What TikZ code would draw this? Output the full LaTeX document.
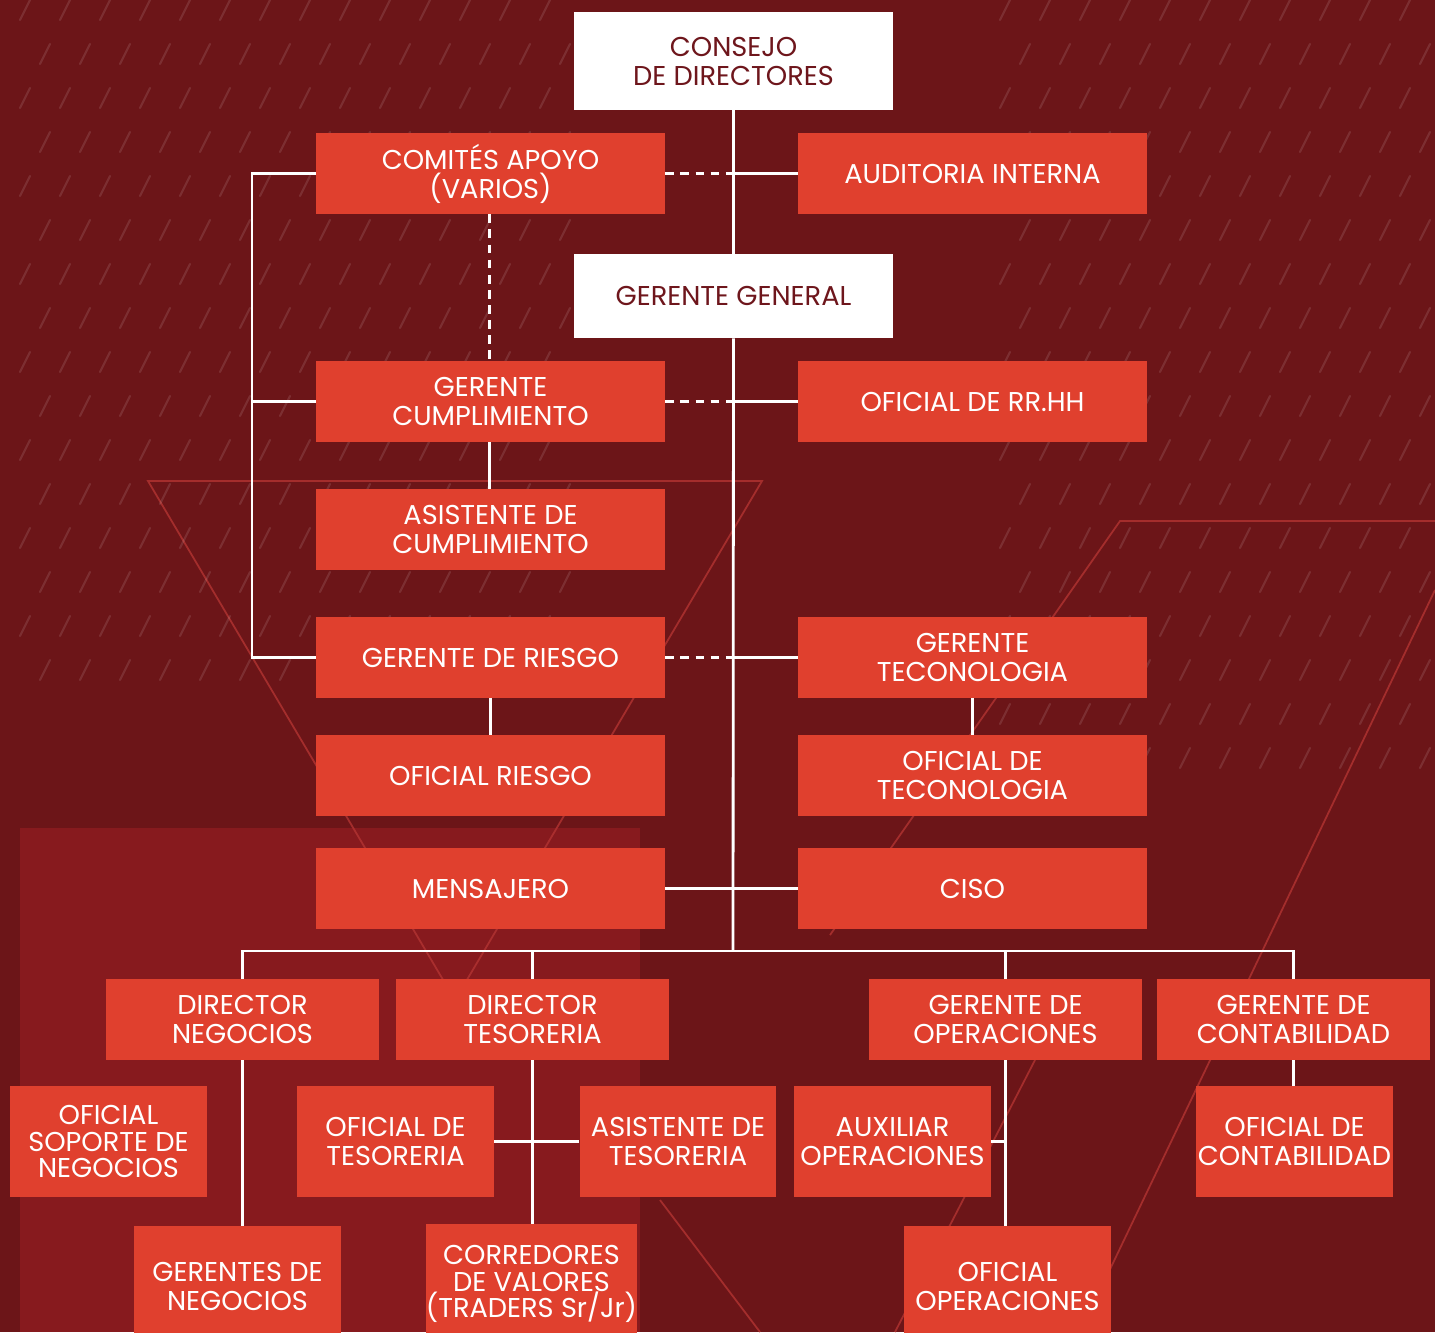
\documentclass[tikz,border=0pt]{standalone}
\usepackage{fontspec}
\setmainfont{Poppins}
\usepackage{xcolor}
\usepackage{tikz}
\definecolor{bgred}{RGB}{108,21,24}
\definecolor{lightbg}{RGB}{135,26,30}
\definecolor{boxred}{RGB}{224,64,46}
\definecolor{wine}{RGB}{110,22,28}
\definecolor{deco}{RGB}{178,52,50}
\usetikzlibrary{calc,backgrounds}
\tikzstyle{org}=[
  x=0.02cm, y=-0.02cm, font=\fontsize{15.5}{16.5}\selectfont
]
\tikzstyle{orgbox}=[
  fill=boxred, text=white, align=center, inner sep=0pt, minimum height=1.62cm
]
\tikzstyle{orgwide}=[
  orgbox, minimum width=6.98cm
]
\tikzstyle{orgmid}=[
  orgbox, minimum width=5.46cm
]
\tikzstyle{orgsmall}=[
  orgbox, minimum width=3.94cm, minimum height=2.22cm
]
\tikzstyle{orglow}=[
  orgbox, minimum width=4.14cm, minimum height=2.4cm
]
\tikzstyle{orgtop}=[
  orgbox, fill=white, text=wine, minimum width=6.38cm
]
\tikzstyle{orgedge}=[
  draw=white, line width=1.6pt
]
\tikzstyle{orgdash}=[
  orgedge, dash pattern=on 5pt off 3.6pt
]
\tikzstyle{decoline}=[
  draw=deco, line width=1pt, opacity=0.8
]
\tikzstyle{slash}=[
  draw=white, line width=1.2pt, opacity=0.11, line cap=round
]

\begin{document}
\begin{tikzpicture}[org]
    \useasboundingbox (0,0) rectangle (1435,1332);

    % top of the chart
    \node (consejo) [orgtop, minimum height=1.96cm] at (733.5,61) {CONSEJO\\DE DIRECTORES};
    \node (gerente) [orgtop, minimum height=1.68cm] at (733.5,296) {GERENTE GENERAL};
    \node (comites) [orgwide] at (490.5,173.5) {COMITÉS APOYO\\(VARIOS)};
    \node (auditoria) [orgwide] at (972.5,173.5) {AUDITORIA INTERNA};

    % middle column
    \node (cumpl) [orgwide] at (490.5,401.5) {GERENTE\\CUMPLIMIENTO};
    \node (rrhh) [orgwide] at (972.5,401.5) {OFICIAL DE RR.HH};
    \node (asiscumpl) [orgwide] at ($(cumpl) + (0,128)$) {ASISTENTE DE\\CUMPLIMIENTO};
    \node (riesgo) [orgwide] at (490.5,657.5) {GERENTE DE RIESGO};
    \node (tecno) [orgwide] at (972.5,657.5) {GERENTE\\TECONOLOGIA};
    \node (ofriesgo) [orgwide] at ($(riesgo) + (0,118)$) {OFICIAL RIESGO};
    \node (oftecno) [orgwide] at ($(tecno) + (0,118)$) {OFICIAL DE\\TECONOLOGIA};
    \node (mensajero) [orgwide] at (490.5,888.5) {MENSAJERO};
    \node (ciso) [orgwide] at (972.5,888.5) {CISO};

    % directors
    \node (dnegocios) [orgmid] at (242.5,1019.5) {DIRECTOR\\NEGOCIOS};
    \node (dtesoreria) [orgmid] at (532.5,1019.5) {DIRECTOR\\TESORERIA};
    \node (goper) [orgmid] at (1005.5,1019.5) {GERENTE DE\\OPERACIONES};
    \node (gcontab) [orgmid] at (1293.5,1019.5) {GERENTE DE\\CONTABILIDAD};

    % staff
    \node (soporte) [orgsmall, font=\fontsize{15.5}{15}\selectfont] at (108.5,1141.5) {OFICIAL\\SOPORTE DE\\NEGOCIOS};
    \node (oftesor) [orgsmall] at (395.5,1141.5) {OFICIAL DE\\TESORERIA};
    \node (asistesor) [orgsmall] at (678,1141.5) {ASISTENTE DE\\TESORERIA};
    \node (auxoper) [orgsmall] at (892.5,1141.5) {AUXILIAR\\OPERACIONES};
    \node (ofcontab) [orgsmall] at (1294.5,1141.5) {OFICIAL DE\\CONTABILIDAD};
    \node (gnegocios) [orglow] at (237.5,1286) {GERENTES DE\\NEGOCIOS};
    \node (corredores) [orglow, font=\fontsize{15.5}{15.3}\selectfont] at (531.5,1284) {CORREDORES\\DE VALORES\\(TRADERS Sr/Jr)};
    \node (ofoper) [orglow] at (1007.5,1286) {OFICIAL\\OPERACIONES};

    \coordinate (lbar) at (252,0);
    \coordinate (bus) at (733,951);

    % connectors
    \draw [orgedge] (consejo.south) -- (gerente.north);
    \draw [orgedge] (gerente.south) -- (bus);
    \draw [orgedge] (auditoria.west) -- (auditoria.west -| gerente.north);
    \draw [orgdash] (comites.east) -- (comites.east -| gerente.north);
    \draw [orgedge] (rrhh.west) -- (rrhh.west -| gerente.south);
    \draw [orgdash] (cumpl.east) -- (cumpl.east -| gerente.south);
    \draw [orgedge] (tecno.west) -- (tecno.west -| gerente.south);
    \draw [orgdash] (riesgo.east) -- (riesgo.east -| gerente.south);
    \draw [orgedge] (mensajero.east) -- (ciso.west);

    \draw [orgedge] (comites.west) -- (comites.west -| lbar) |- (riesgo.west);
    \draw [orgedge] (cumpl.west) -- (cumpl.west -| lbar);
    \draw [orgdash] ($(comites.south) + (-1,0)$) -- ($(cumpl.north) + (-1,0)$);
    \draw [orgedge] ($(cumpl.south) + (-1,0)$) -- ($(asiscumpl.north) + (-1,0)$);
    \draw [orgedge] (riesgo.south) -- (ofriesgo.north);
    \draw [orgedge] (tecno.south) -- (oftecno.north);

    \draw [orgedge] (dnegocios.north) -- (dnegocios.north |- bus) -- (gcontab.north |- bus) -- (gcontab.north);
    \draw [orgedge] (dtesoreria.north) -- (dtesoreria.north |- bus);
    \draw [orgedge] (goper.north) -- (goper.north |- bus);

    \draw [orgedge] (dnegocios.south) -- (dnegocios.south |- gnegocios.north);
    \draw [orgedge] (dtesoreria.south) -- (dtesoreria.south |- corredores.north);
    \draw [orgedge] (oftesor.east) -- (asistesor.west);
    \draw [orgedge] (goper.south) -- (goper.south |- ofoper.north);
    \draw [orgedge] (auxoper.east) -- (auxoper.east -| goper.south);
    \draw [orgedge] (gcontab.south) -- (gcontab.south |- ofcontab.north);

    \begin{scope}[on background layer]
        \fill [bgred] (0,0) rectangle (1435,1332);
        \fill [lightbg] (20,828) rectangle (640,1332);
        % decoration
        \draw [decoline] (148,481) -- (762,481) -- (455,1000) -- cycle;
        \draw [decoline] (1435,521) -- (1120,521) -- (830,935);
        \draw [decoline] (1435,590) -- (1080,1332);
        \draw [decoline] (1035,1060) -- (895,1332);
        \draw [decoline] (660,1200) -- (760,1332);
        \foreach \i in {0,...,13}
            \foreach \j in {0,...,15} {
                \pgfmathsetmacro{\sx}{20 + \i*40 + mod(\j,2)*20}
                \pgfmathsetmacro{\sy}{20 + \j*44}
                \draw [slash] (\sx,\sy) -- ++ (10,-20);
            }
        \foreach \i in {0,...,10}
            \foreach \j in {0,...,17} {
                \pgfmathsetmacro{\sx}{1000 + \i*40 + mod(\j,2)*20}
                \pgfmathsetmacro{\sy}{20 + \j*44}
                \draw [slash] (\sx,\sy) -- ++ (10,-20);
            }
    \end{scope}
\end{tikzpicture}
\end{document}
